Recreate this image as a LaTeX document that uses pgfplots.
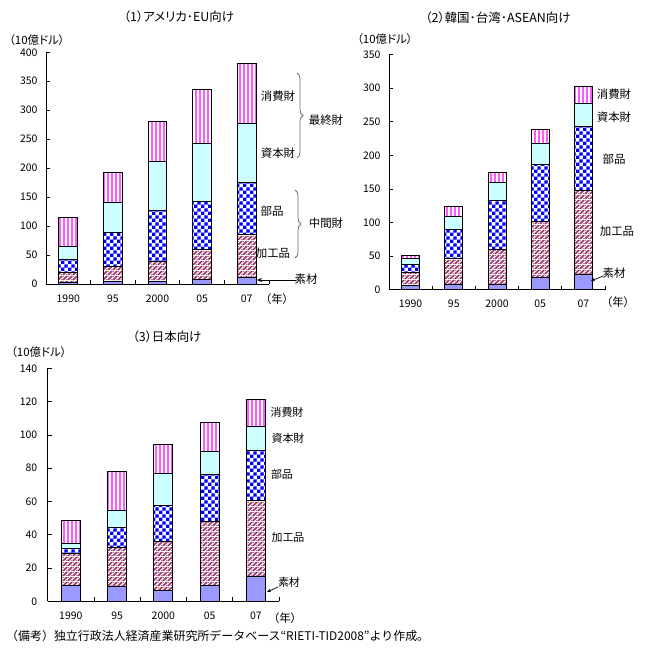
\documentclass[border=0pt]{standalone}
\usepackage{fontspec}
\setmainfont[RawFeature={+palt}]{Noto Sans CJK JP}
\newfontfamily\jpmono{Noto Sans CJK JP}
\usepackage{pgfplots}
\pgfplotsset{compat=1.18}
\usetikzlibrary{patterns,decorations.pathreplacing,arrows.meta}

\definecolor{sozai}{HTML}{9999FF}
\definecolor{kakou}{HTML}{993366}
\definecolor{buhin}{HTML}{0000FF}
\definecolor{shihon}{HTML}{CCFFFF}
\definecolor{shouhi}{HTML}{FF00FF}
\definecolor{brgray}{HTML}{707070}

\pgfdeclarepatterninherentlycolored{chkB}{\pgfpointorigin}{\pgfqpoint{6.8bp}{6.8bp}}{\pgfqpoint{6.8bp}{6.8bp}}{%
 \pgfsetfillcolor{white}%
 \pgfpathrectangle{\pgfpointorigin}{\pgfqpoint{6.8bp}{6.8bp}}\pgfusepath{fill}%
 \pgfsetfillcolor{buhin}%
 \pgfpathrectangle{\pgfpointorigin}{\pgfqpoint{3.45bp}{3.45bp}}%
 \pgfpathrectangle{\pgfqpoint{3.4bp}{3.4bp}}{\pgfqpoint{3.45bp}{3.45bp}}%
 \pgfusepath{fill}}
\pgfdeclarepatterninherentlycolored{vlnM}{\pgfpointorigin}{\pgfqpoint{3.9bp}{3.9bp}}{\pgfqpoint{3.9bp}{3.9bp}}{%
 \pgfsetfillcolor{white}%
 \pgfpathrectangle{\pgfpointorigin}{\pgfqpoint{3.9bp}{3.9bp}}\pgfusepath{fill}%
 \pgfsetfillcolor{shouhi}%
 \pgfpathrectangle{\pgfqpoint{1.4bp}{0bp}}{\pgfqpoint{1.2bp}{3.9bp}}\pgfusepath{fill}}
\pgfdeclarepatterninherentlycolored{dlnK}{\pgfpointorigin}{\pgfqpoint{4.5bp}{4.5bp}}{\pgfqpoint{4.5bp}{4.5bp}}{%
 \pgfsetfillcolor{white}%
 \pgfpathrectangle{\pgfpointorigin}{\pgfqpoint{4.5bp}{4.5bp}}\pgfusepath{fill}%
 \pgfsetfillcolor{kakou}%
 \pgfpathmoveto{\pgfqpoint{0bp}{0bp}}%
 \pgfpathlineto{\pgfqpoint{1.25bp}{0bp}}%
 \pgfpathlineto{\pgfqpoint{4.5bp}{3.25bp}}%
 \pgfpathlineto{\pgfqpoint{4.5bp}{4.5bp}}%
 \pgfpathlineto{\pgfqpoint{3.25bp}{4.5bp}}%
 \pgfpathlineto{\pgfqpoint{0bp}{1.25bp}}%
 \pgfpathclose
 \pgfpathmoveto{\pgfqpoint{3.25bp}{0bp}}%
 \pgfpathlineto{\pgfqpoint{4.5bp}{0bp}}%
 \pgfpathlineto{\pgfqpoint{4.5bp}{1.25bp}}%
 \pgfpathclose
 \pgfpathmoveto{\pgfqpoint{0bp}{3.25bp}}%
 \pgfpathlineto{\pgfqpoint{1.25bp}{4.5bp}}%
 \pgfpathlineto{\pgfqpoint{0bp}{4.5bp}}%
 \pgfpathclose
 \pgfusepath{fill}}

\pgfplotsset{
 bsozai/.style={draw=black, line width=0.9bp, fill=sozai},
 bkakou/.style={draw=black, line width=0.9bp, pattern=dlnK},
 bbuhin/.style={draw=black, line width=0.9bp, pattern=chkB},
 bshihon/.style={draw=black, line width=0.9bp, fill=shihon},
 bshouhi/.style={draw=black, line width=0.9bp, pattern=vlnM},
 common/.style={
  scale only axis, anchor=south west, ybar stacked, bar width=0.42,
  xmin=-0.5, xmax=4.5, ymin=0,
  axis x line*=bottom, axis y line*=left,
  xtick={0,...,4}, xticklabels={1990,95,2000,05,07},
  minor xtick={-0.5,0.5,1.5,2.5,3.5,4.5},
  major x tick style={draw=none},
  tick align=inside, major tick length=4bp, minor tick length=4bp,
  tick style={black, line width=0.7bp},
  axis line style={black, line width=0.8bp},
  ticklabel style={font=\fontsize{10.5}{11}\selectfont},
  /pgf/number format/assume math mode=true,
  xticklabel style={yshift=-7bp},
  yticklabel style={xshift=-5bp},
  clip=false,
 }
}

\begin{document}
\begin{tikzpicture}
\useasboundingbox (0,0) rectangle (651bp,658bp);

% Panel 1
\begin{axis}[common, at={(46bp,374bp)}, width=223bp, height=231.7bp, ymax=400, ytick={0,50,...,400}]
\addplot[bsozai] coordinates {(0,3) (1,4.6) (2,4.6) (3,8) (4,11.5)};
\addplot[bkakou] coordinates {(0,17) (1,26.4) (2,34.4) (3,52) (4,74.5)};
\addplot[bbuhin] coordinates {(0,22.6) (1,58) (2,88) (3,83) (4,89.5)};
\addplot[bshihon] coordinates {(0,22.4) (1,51) (2,85) (3,100) (4,101.5)};
\addplot[bshouhi] coordinates {(0,50) (1,53) (2,69) (3,92) (4,104)};
\end{axis}

% Panel 2
\begin{axis}[common, at={(389bp,368.3bp)}, width=216bp, height=235bp, ymax=350, ytick={0,50,...,350}, bar width=0.415]
\addplot[bsozai] coordinates {(0,6.5) (1,8) (2,8) (3,18) (4,23)};
\addplot[bkakou] coordinates {(0,19.5) (1,39) (2,52) (3,83) (4,125.5)};
\addplot[bbuhin] coordinates {(0,12) (1,43) (2,73) (3,85) (4,94.5)};
\addplot[bshihon] coordinates {(0,8) (1,19) (2,27) (3,32) (4,34.5)};
\addplot[bshouhi] coordinates {(0,5) (1,15) (2,15) (3,21) (4,25.5)};
\end{axis}

% Panel 3
\begin{axis}[common, at={(47.7bp,56.7bp)}, width=231.3bp, height=233bp, ymax=140, ytick={0,20,...,140}, bar width=0.41, yticklabel style={xshift=-2bp}]
\addplot[bsozai] coordinates {(0,9.6) (1,9) (2,6.6) (3,9.6) (4,15)};
\addplot[bkakou] coordinates {(0,19.2) (1,23.4) (2,29.3) (3,38.4) (4,45.7)};
\addplot[bbuhin] coordinates {(0,3.2) (1,12.1) (2,21.8) (3,28.1) (4,30)};
\addplot[bshihon] coordinates {(0,2.8) (1,10.2) (2,19.2) (3,14) (4,14.4)};
\addplot[bshouhi] coordinates {(0,13.9) (1,23.4) (2,17.4) (3,17.4) (4,16.3)};
\end{axis}

\begin{scope}[x=1bp,y=-1bp,shift={(0,-658)}]
\tikzset{lab/.style={font=\fontsize{11.5}{12}\selectfont, inner sep=0pt},
         ttl/.style={font=\fontsize{12.5}{13}\selectfont, inner sep=0pt}}
% titles
\node[ttl] at (179,17) {（1）アメリカ･EU向け};
\node[ttl] at (498,18) {（2）韓国･台湾･ASEAN向け};
\node[ttl] at (167,337) {（3）日本向け};
% units
\node[lab, anchor=west] at (9,40) {（10億ドル）};
\node[lab, anchor=west] at (357,39) {（10億ドル）};
\node[lab, anchor=west] at (11,352) {（10億ドル）};
\node[lab] at (277,299) {（年）};
\node[lab] at (618,302) {（年）};
\node[lab] at (285,618) {（年）};
% panel 1 annotations
\node[lab] at (278,96) {消費財};
\node[lab] at (278,153) {資本財};
\node[lab] at (272,211) {部品};
\node[lab] at (273,253) {加工品};
\node[lab] at (306,279) {素材};
\draw[line width=0.8bp, -{Stealth[length=5bp,width=4bp]}] (296,280) -- (257,280);
\draw[brgray, line width=0.8bp, decorate, decoration={brace, amplitude=6bp}] (297,73) -- (297,158);
\draw[brgray, line width=0.8bp, decorate, decoration={brace, amplitude=6bp}] (295,190) -- (295,258);
\node[lab] at (326,120) {最終財};
\node[lab] at (326,223) {中間財};
% panel 2 annotations
\node[lab] at (614,94) {消費財};
\node[lab] at (614,117) {資本財};
\node[lab] at (614,159) {部品};
\node[lab] at (617,231) {加工品};
\node[lab] at (614,273) {素材};
\draw[line width=0.7bp, -{Stealth[length=4bp,width=3.5bp]}] (603,276) -- (591,281);
% panel 3 annotations
\tikzset{lab3/.style={font=\fontsize{11}{12}\selectfont, inner sep=0pt}}
\node[lab3] at (287,412) {消費財};
\node[lab3] at (288,438) {資本財};
\node[lab3] at (282,474) {部品};
\node[lab3] at (288,537) {加工品};
\node[lab3] at (289,582) {素材};
\draw[line width=0.7bp, -{Stealth[length=4bp,width=3.5bp]}] (278,587) -- (267,592);
% footer
\node[anchor=west, inner sep=0pt, font=\jpmono\fontsize{12}{13}\selectfont] at (6,636) {（備考）独立行政法人経済産業研究所データベース“RIETI-TID2008”より作成。};
\end{scope}
\end{tikzpicture}
\end{document}
